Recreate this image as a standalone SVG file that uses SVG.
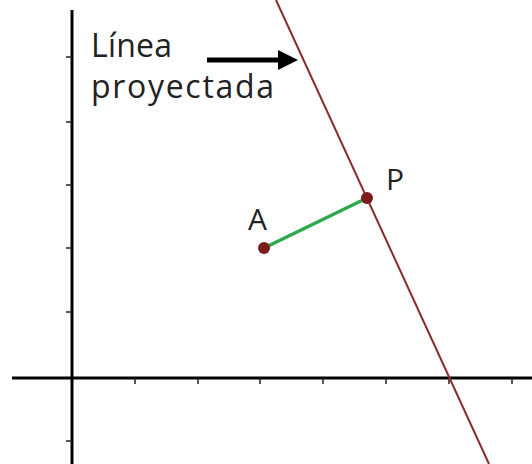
<svg xmlns="http://www.w3.org/2000/svg" width="532" height="464" viewBox="0 0 532 464">
<style>
.ax{stroke:#000;stroke-width:3;fill:none}
.tk{stroke:#222;stroke-width:1.5}
.lbl{font-family:"Open Sans","Liberation Sans",sans-serif;fill:#222}
.pt{fill:#7a1c1c}
</style>
<defs>
<marker id="ah" markerWidth="4" markerHeight="4" refX="2" refY="2" orient="auto" markerUnits="strokeWidth">
<path d="M0,0 L4,2 L0,4 z" fill="#000"/>
</marker>
</defs>
<rect width="532" height="464" fill="#fff"/>
<g id="axes">
<line class="ax" x1="72" y1="10" x2="72" y2="464"/>
<line class="ax" x1="12" y1="378" x2="532" y2="378"/>
<g class="tk">
<line x1="135" y1="378" x2="135" y2="384"/>
<line x1="198" y1="378" x2="198" y2="384"/>
<line x1="260" y1="378" x2="260" y2="384"/>
<line x1="323" y1="378" x2="323" y2="384"/>
<line x1="386" y1="378" x2="386" y2="384"/>
<line x1="449" y1="378" x2="449" y2="384"/>
<line x1="512" y1="378" x2="512" y2="384"/>
<line x1="66" y1="57" x2="72" y2="57"/>
<line x1="66" y1="122" x2="72" y2="122"/>
<line x1="66" y1="185" x2="72" y2="185"/>
<line x1="66" y1="248" x2="72" y2="248"/>
<line x1="66" y1="312" x2="72" y2="312"/>
<line x1="66" y1="441" x2="72" y2="441"/>
</g>
</g>
<g id="connectors">
<line x1="276" y1="0" x2="489" y2="464" stroke="#8a2b2b" stroke-width="2"/>
<line x1="264" y1="248" x2="367" y2="198" stroke="#2ea84c" stroke-width="3.5"/>
<line x1="207" y1="60" x2="288" y2="60" stroke="#000" stroke-width="5" marker-end="url(#ah)"/>
</g>
<g id="label-linea">
<text class="lbl" x="91" y="57" font-size="32" textLength="81" lengthAdjust="spacing">Línea</text>
<text class="lbl" x="91" y="98" font-size="32" textLength="183" lengthAdjust="spacing">proyectada</text>
</g>
<g id="node-A">
<circle class="pt" cx="264" cy="248" r="6"/>
<text class="lbl" x="248" y="230" font-size="30">A</text>
</g>
<g id="node-P">
<circle class="pt" cx="367" cy="198" r="6"/>
<text class="lbl" x="386" y="190" font-size="30">P</text>
</g>
</svg>
